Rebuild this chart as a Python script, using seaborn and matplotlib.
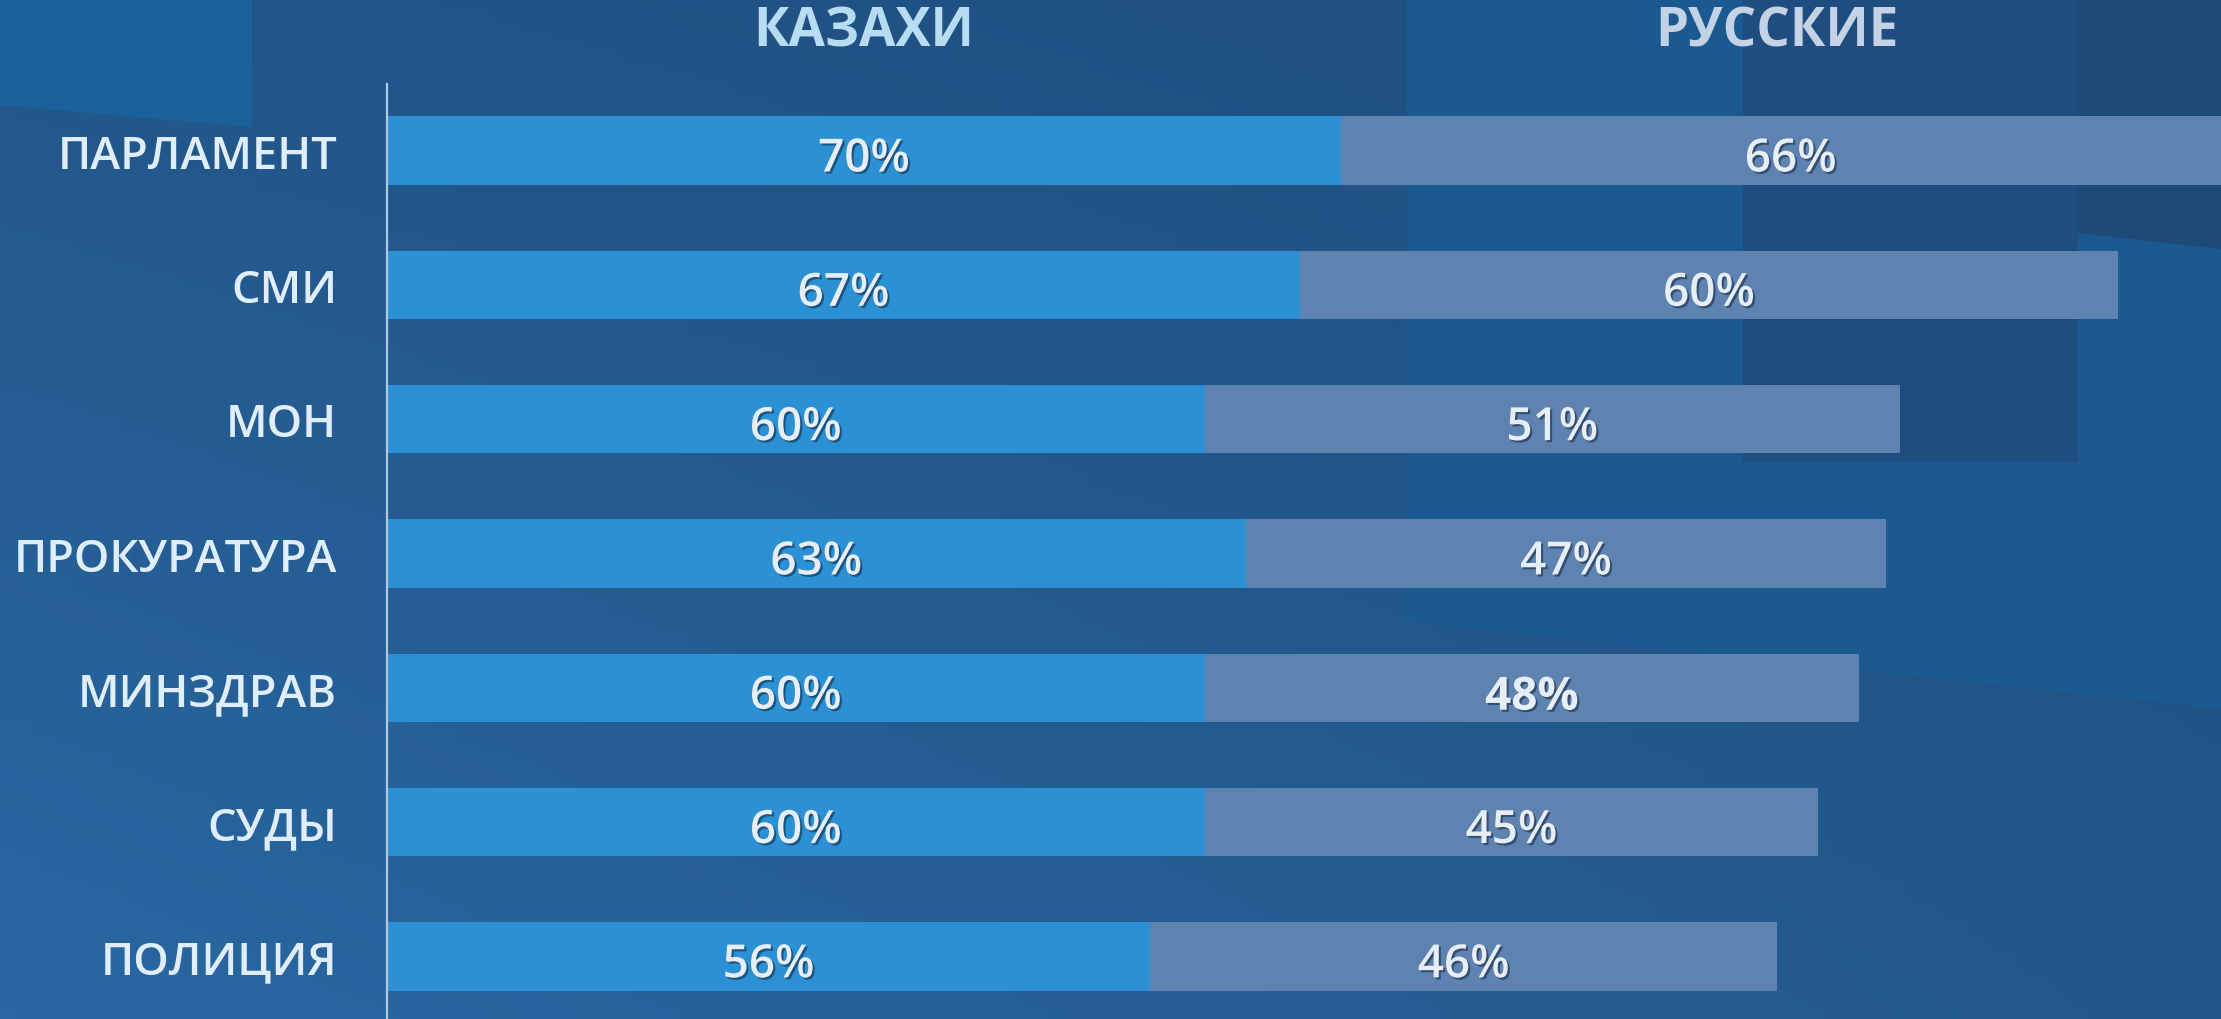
import numpy as np
import pandas as pd
import matplotlib.pyplot as plt
import matplotlib.patheffects as pe
from matplotlib.patches import Polygon
import seaborn as sns

# ─────────────────────────────────────────────
# DATA
# ─────────────────────────────────────────────
CATEGORIES = ["ПАРЛАМЕНТ", "СМИ", "МОН", "ПРОКУРАТУРА", "МИНЗДРАВ", "СУДЫ", "ПОЛИЦИЯ"]
KAZAKHS = [70, 67, 60, 63, 60, 60, 56]
RUSSIANS = [66, 60, 51, 47, 48, 45, 46]
SERIES_NAMES = ["КАЗАХИ", "РУССКИЕ"]

# ─────────────────────────────────────────────
# STYLE
# ─────────────────────────────────────────────
KAZ_COLOR = "#2b91d4"
RUS_COLOR = "#5f83b1"
LABEL_COLOR = "#dfeefa"
VALUE_COLOR = "#e8eef6"
HEADER_COLORS = ["#b8ddf3", "#c4d2e5"]
W, H = 2221, 1020

sns.set_style("white")
plt.rcParams["font.family"] = ["Open Sans", "DejaVu Sans"]

df = pd.DataFrame({"cat": CATEGORIES, "kaz": KAZAKHS, "rus": RUSSIANS})
df["total"] = df["kaz"] + df["rus"]

fig = plt.figure(figsize=(W / 100, H / 100), dpi=100)

# background: soft gradient + a few flat geometric panels
bg = fig.add_axes([0, 0, 1, 1], zorder=-10)
bg.set_xlim(0, W)
bg.set_ylim(H, 0)
bg.axis("off")


def hex2rgb(h):
    return np.array([int(h[i:i + 2], 16) for i in (1, 3, 5)]) / 255


tl, tr, bl, br = map(hex2rgb, ["#22568a", "#1f4c7c", "#2968a2", "#22578b"])
u = np.linspace(0, 1, 200)[None, :, None]
v = np.linspace(0, 1, 100)[:, None, None]
grad = (1 - v) * ((1 - u) * tl + u * tr) + v * ((1 - u) * bl + u * br)
bg.imshow(grad, extent=[0, W, H, 0], aspect="auto")

panels = [
    ([(0, 0), (252, 0), (252, 128), (0, 106)], "#1a629c"),
    ([(1407, 0), (1743, 0), (1743, 463), (2078, 463), (2078, 234),
      (2221, 250), (2221, 710), (1407, 622)], "#1b5a90"),
    ([(1743, 0), (2078, 0), (2078, 463), (1743, 463)], "#1f4d7f"),
    ([(2078, 0), (2221, 0), (2221, 250), (2078, 234)], "#1e4a78"),
]
for pts, col in panels:
    bg.add_patch(Polygon(pts, closed=True, facecolor=col, edgecolor="none"))

# ─────────────────────────────────────────────
# CHART
# ─────────────────────────────────────────────
ax_left = 387 / W
ax_top = 85 / H
ax = fig.add_axes([ax_left, 0, 1 - ax_left, 1 - ax_top])
ax.set_facecolor("none")

sns.barplot(data=df, x="total", y="cat", orient="h", color=RUS_COLOR,
            saturation=1, width=0.51, linewidth=0, ax=ax)
sns.barplot(data=df, x="kaz", y="cat", orient="h", color=KAZ_COLOR,
            saturation=1, width=0.51, linewidth=0, ax=ax)

ax.set_xlim(0, (W - 387) / 13.63)
ax.set_ylim(6.466, -0.496)
ax.set_xlabel("")
ax.set_ylabel("")
ax.set_xticks([])

sns.despine(ax=ax, top=True, right=True, bottom=True, left=False)
ax.spines["left"].set_color("#b3c6dc")
ax.spines["left"].set_linewidth(1.6)

ax.tick_params(axis="y", length=0, pad=36)
for lab in ax.get_yticklabels():
    lab.set_fontsize(32.5)
    lab.set_color(LABEL_COLOR)
    lab.set_fontweight("semibold")

shadow = [pe.withSimplePatchShadow(offset=(1.5, -1.5), shadow_rgbFace="#0d2440", alpha=0.55)]

for i, row in df.iterrows():
    ax.text(row["kaz"] / 2, i + 0.07, f"{row['kaz']}%", ha="center", va="center",
            fontsize=33, color=VALUE_COLOR, fontweight="semibold", path_effects=shadow)
    weight = "bold" if row["cat"] == "МИНЗДРАВ" else "semibold"
    ax.text(row["kaz"] + row["rus"] / 2, i + 0.07, f"{row['rus']}%", ha="center",
            va="center", fontsize=33, color=VALUE_COLOR, fontweight=weight,
            path_effects=shadow)

# column headers centred over the first row's segments
head_x = [KAZAKHS[0] / 2, KAZAKHS[0] + RUSSIANS[0] / 2 - 1]
for name, x, col in zip(SERIES_NAMES, head_x, HEADER_COLORS):
    ax.text(x, -0.496 - 52 / 134.3, name, ha="center", va="center",
            fontsize=38, color=col, fontweight="bold", clip_on=False)

fig.savefig("out.png", dpi=100)
